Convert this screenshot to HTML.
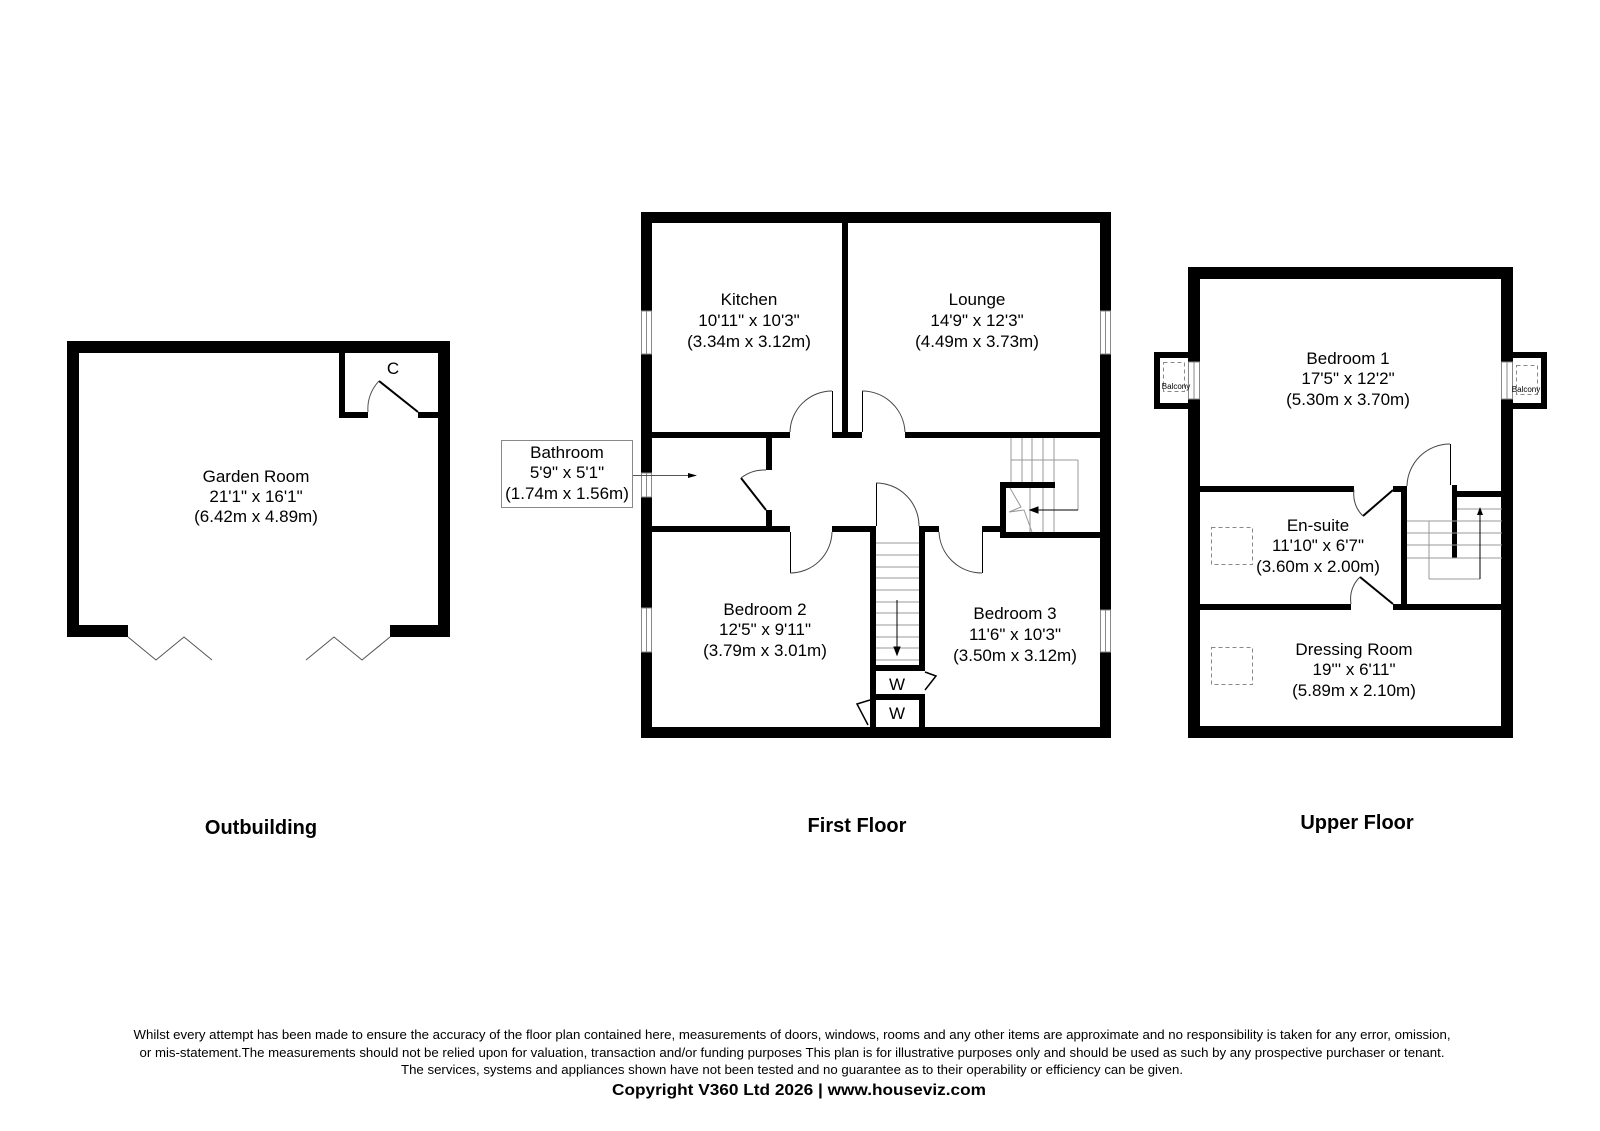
<!DOCTYPE html>
<html><head><meta charset="utf-8"><style>html,body{margin:0;padding:0;background:#fff}svg{display:block}</style></head>
<body>
<svg width="1600" height="1131" viewBox="0 0 1600 1131" xmlns="http://www.w3.org/2000/svg" font-family="Liberation Sans, Arial, sans-serif">
<rect width="1600" height="1131" fill="#fff"/>
<!-- ========== OUTBUILDING ========== -->
<g fill="#000">
<rect x="67" y="341" width="383" height="12"/>
<rect x="67" y="341" width="12" height="296"/>
<rect x="438" y="341" width="12" height="296"/>
<rect x="67" y="625" width="61" height="12"/>
<rect x="390" y="625" width="60" height="12"/>
<rect x="339" y="353" width="6" height="65"/>
<rect x="339" y="412" width="29" height="6"/>
<rect x="418" y="412" width="20" height="6"/>
</g>
<g fill="none" stroke="#000" stroke-width="1">
<polyline points="128,637 156,660 184,637 212,660" stroke="#555"/>
<polyline points="306,660 334,637 362,660 390,637" stroke="#555"/>
<line x1="418" y1="412" x2="379" y2="381" stroke-width="2"/>
<path d="M379,381 A40,40 0 0 0 368,412" stroke="#555"/>
</g>
<g font-size="17" text-anchor="middle" fill="#000">
<text x="393" y="374">C</text>
<text x="256" y="482">Garden Room</text>
<text x="256" y="502">21'1" x 16'1"</text>
<text x="256" y="522">(6.42m x 4.89m)</text>
</g>

<!-- ========== FIRST FLOOR ========== -->
<g fill="#000">
<rect x="641" y="212" width="470" height="11"/>
<rect x="641" y="727" width="470" height="11"/>
<rect x="641" y="212" width="11" height="526"/>
<rect x="1100" y="212" width="11" height="526"/>
<rect x="842" y="223" width="6" height="215"/>
<rect x="652" y="432" width="138" height="6"/>
<rect x="832" y="432" width="30" height="6"/>
<rect x="905" y="432" width="195" height="6"/>
<rect x="766" y="438" width="6" height="32"/>
<rect x="766" y="510" width="6" height="22"/>
<rect x="652" y="526" width="138" height="6"/>
<rect x="832" y="526" width="44" height="6"/>
<rect x="870" y="526" width="6" height="201"/>
<rect x="919" y="526" width="6" height="140"/>
<rect x="919" y="694" width="6" height="33"/>
<rect x="925" y="526" width="14" height="6"/>
<rect x="982" y="526" width="24" height="6"/>
<rect x="1000" y="482" width="6" height="56"/>
<rect x="1000" y="482" width="55" height="6"/>
<rect x="1000" y="532" width="100" height="6"/>
<rect x="870" y="665" width="55" height="6"/>
<rect x="870" y="694" width="55" height="6"/>
</g>
<!-- windows -->
<g fill="#fff" stroke="#888" stroke-width="1">
<rect x="641.5" y="311" width="10" height="43"/>
<rect x="641.5" y="473" width="10" height="24"/>
<rect x="641.5" y="608" width="10" height="44"/>
<rect x="1100.5" y="311" width="10" height="43"/>
<rect x="1100.5" y="610" width="10" height="42"/>
<line x1="646.5" y1="311" x2="646.5" y2="354"/>
<line x1="646.5" y1="473" x2="646.5" y2="497"/>
<line x1="646.5" y1="608" x2="646.5" y2="652"/>
<line x1="1105.5" y1="311" x2="1105.5" y2="354"/>
<line x1="1105.5" y1="610" x2="1105.5" y2="652"/>
</g>
<!-- doors -->
<g fill="none" stroke="#000" stroke-width="1">
<line x1="832.5" y1="432" x2="832.5" y2="391"/>
<path d="M832,391 A42,42 0 0 0 790,432" stroke="#444"/>
<line x1="862.5" y1="432" x2="862.5" y2="391"/>
<path d="M862,391 A43,43 0 0 1 905,432" stroke="#444"/>
<line x1="766" y1="510" x2="741" y2="478" stroke-width="2"/>
<path d="M741,478 A38,38 0 0 1 766,470" stroke="#444"/>
<line x1="790.5" y1="532" x2="790.5" y2="573"/>
<path d="M790,573 A42,42 0 0 0 832,532" stroke="#444"/>
<line x1="876.5" y1="526" x2="876.5" y2="483"/>
<path d="M876,483 A43,43 0 0 1 919,526" stroke="#444"/>
<line x1="982.5" y1="532" x2="982.5" y2="573"/>
<path d="M982,573 A43,43 0 0 1 939,532" stroke="#444"/>
<polyline points="925,672 936,676 925,690" stroke-width="1.5"/>
<polyline points="870,700 857,704 868,725" stroke-width="1.5"/>
</g>
<!-- stairs -->
<g fill="none" stroke="#999" stroke-width="1">
<line x1="876" y1="543" x2="919" y2="543"/><line x1="876" y1="555" x2="919" y2="555"/>
<line x1="876" y1="567" x2="919" y2="567"/><line x1="876" y1="578" x2="919" y2="578"/>
<line x1="876" y1="590" x2="919" y2="590"/><line x1="876" y1="602" x2="919" y2="602"/>
<line x1="876" y1="613" x2="919" y2="613"/><line x1="876" y1="625" x2="919" y2="625"/>
<line x1="876" y1="637" x2="919" y2="637"/><line x1="876" y1="648" x2="919" y2="648"/>
<line x1="876" y1="660" x2="919" y2="660"/>
<line x1="1011" y1="438" x2="1011" y2="482"/><line x1="1022" y1="438" x2="1022" y2="482"/>
<line x1="1032" y1="438" x2="1032" y2="482"/><line x1="1043" y1="438" x2="1043" y2="482"/>
<line x1="1054" y1="438" x2="1054" y2="482"/>
<line x1="1011" y1="460" x2="1078" y2="460"/>
<line x1="1078" y1="460" x2="1078" y2="510"/>
<line x1="1030" y1="488" x2="1030" y2="532"/><line x1="1043" y1="488" x2="1043" y2="532"/>
<line x1="1054" y1="488" x2="1054" y2="532"/>
<polyline points="1010,488 1021,507 1009,512 1024,510 1032,532"/>
</g>
<g stroke="#000" fill="#000" stroke-width="1">
<line x1="1078" y1="510" x2="1036" y2="510"/>
<polygon points="1030,510 1038,507 1038,513"/>
<line x1="897" y1="600" x2="897" y2="650"/>
<polygon points="897,655 894,647 900,647"/>
</g>
<!-- bathroom label -->
<rect x="501.5" y="440.5" width="131" height="67" fill="#fff" stroke="#888"/>
<line x1="633" y1="475.5" x2="690" y2="475.5" stroke="#555"/>
<polygon points="697,475.5 688,473 688,478" fill="#000"/>
<g font-size="17" text-anchor="middle" fill="#000">
<text x="567" y="458">Bathroom</text>
<text x="567" y="478">5'9" x 5'1"</text>
<text x="567" y="499">(1.74m x 1.56m)</text>
<text x="749" y="305">Kitchen</text>
<text x="749" y="326">10'11" x 10'3"</text>
<text x="749" y="347">(3.34m x 3.12m)</text>
<text x="977" y="305">Lounge</text>
<text x="977" y="326">14'9" x 12'3"</text>
<text x="977" y="347">(4.49m x 3.73m)</text>
<text x="765" y="615">Bedroom 2</text>
<text x="765" y="635">12'5" x 9'11"</text>
<text x="765" y="656">(3.79m x 3.01m)</text>
<text x="1015" y="619">Bedroom 3</text>
<text x="1015" y="640">11'6" x 10'3"</text>
<text x="1015" y="661">(3.50m x 3.12m)</text>
<text x="897" y="690">W</text>
<text x="897" y="719">W</text>
</g>

<!-- ========== UPPER FLOOR ========== -->
<g fill="#000">
<rect x="1188" y="267" width="325" height="12"/>
<rect x="1188" y="726" width="325" height="12"/>
<rect x="1188" y="267" width="12" height="471"/>
<rect x="1501" y="267" width="12" height="471"/>
<rect x="1154" y="352" width="34" height="57"/>
<rect x="1513" y="352" width="34" height="57"/>
<rect x="1200" y="486" width="154" height="6"/>
<rect x="1393" y="486" width="14" height="6"/>
<rect x="1401" y="486" width="6" height="123"/>
<rect x="1457" y="491" width="45" height="6"/>
<rect x="1452" y="485" width="5" height="73"/>
<rect x="1200" y="604" width="151" height="6"/>
<rect x="1393" y="604" width="109" height="6"/>
</g>
<g fill="#fff">
<rect x="1160" y="358" width="28" height="45"/>
<rect x="1513" y="358" width="28" height="45"/>
</g>
<g fill="#fff" stroke="#888" stroke-width="1">
<rect x="1188.5" y="362" width="11" height="37"/>
<rect x="1501.5" y="362" width="11" height="37"/>
<line x1="1194" y1="362" x2="1194" y2="399"/>
<line x1="1507" y1="362" x2="1507" y2="399"/>
</g>
<g fill="none" stroke="#888" stroke-dasharray="4,3" stroke-width="1">
<rect x="1163.5" y="362.5" width="21" height="29"/>
<rect x="1516.5" y="365.5" width="21" height="29"/>
<rect x="1211.5" y="527.5" width="41" height="37"/>
<rect x="1211.5" y="647.5" width="41" height="37"/>
</g>
<g font-size="8" text-anchor="middle" fill="#000">
<text x="1176" y="389">Balcony</text>
<text x="1526" y="392">Balcony</text>
</g>
<!-- upper doors -->
<g fill="none" stroke="#000">
<line x1="1450.5" y1="444" x2="1450.5" y2="485"/>
<path d="M1450,444 A43,43 0 0 0 1407,486" stroke="#444"/>
<line x1="1393" y1="490" x2="1363" y2="516" stroke-width="2"/>
<path d="M1354,490 A30,30 0 0 0 1363,516" stroke="#444"/>
<line x1="1393" y1="604" x2="1360" y2="577" stroke-width="2"/>
<path d="M1360,577 A30,30 0 0 0 1351,604" stroke="#444"/>
</g>
<g fill="none" stroke="#999">
<line x1="1457" y1="509" x2="1502" y2="509"/>
<line x1="1407" y1="521" x2="1502" y2="521"/>
<line x1="1407" y1="533" x2="1502" y2="533"/>
<line x1="1407" y1="545" x2="1502" y2="545"/>
<line x1="1407" y1="558" x2="1502" y2="558"/>
<line x1="1429" y1="521" x2="1429" y2="579"/>
<line x1="1429" y1="579" x2="1480" y2="579"/>
<line x1="1480" y1="579" x2="1480" y2="512" stroke="#000"/>
</g>
<polygon points="1480,507 1477,515 1483,515" fill="#000"/>
<g font-size="17" text-anchor="middle" fill="#000">
<text x="1348" y="364">Bedroom 1</text>
<text x="1348" y="384">17'5" x 12'2"</text>
<text x="1348" y="405">(5.30m x 3.70m)</text>
<text x="1318" y="531">En-suite</text>
<text x="1318" y="551">11'10" x 6'7"</text>
<text x="1318" y="572">(3.60m x 2.00m)</text>
<text x="1354" y="655">Dressing Room</text>
<text x="1354" y="675">19''' x 6'11"</text>
<text x="1354" y="696">(5.89m x 2.10m)</text>
</g>

<!-- titles -->
<g font-size="20" font-weight="bold" text-anchor="middle" fill="#000">
<text x="261" y="834">Outbuilding</text>
<text x="857" y="832">First Floor</text>
<text x="1357" y="829">Upper Floor</text>
</g>
<!-- footer -->
<g font-size="12.5" text-anchor="middle" fill="#000">
<text x="792" y="1039" textLength="1317" lengthAdjust="spacingAndGlyphs">Whilst every attempt has been made to ensure the accuracy of the floor plan contained here, measurements of doors, windows, rooms and any other items are approximate and no responsibility is taken for any error, omission,</text>
<text x="792" y="1057" textLength="1305" lengthAdjust="spacingAndGlyphs">or mis-statement.The measurements should not be relied upon for valuation, transaction and/or funding purposes This plan is for illustrative purposes only and should be used as such by any prospective purchaser or tenant.</text>
<text x="792" y="1074" textLength="782" lengthAdjust="spacingAndGlyphs">The services, systems and appliances shown have not been tested and no guarantee as to their operability or efficiency can be given.</text>
</g>
<text x="799" y="1095" font-size="15.5" font-weight="bold" text-anchor="middle" textLength="374" lengthAdjust="spacingAndGlyphs">Copyright V360 Ltd 2026 | www.houseviz.com</text>
</svg>
</body></html>
